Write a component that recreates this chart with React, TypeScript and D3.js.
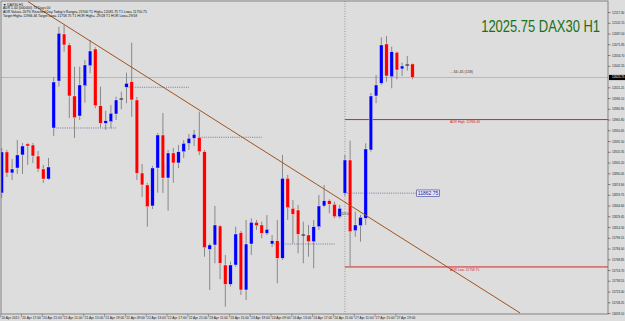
import React from 'react';
import * as d3 from 'd3';

const W = 625;
const H = 321;
const plot = { left: 1, right: 608, top: 1, bottom: 314 };

// DAX30 H1, 20 Apr 2015 .. 27 Apr 2015
const opens = [
  11863.0, 11920.8, 11891.2, 11898.2, 11916.6, 11932.1, 11930.6, 11915.1, 11896.8, 11882.7,
  11954.6, 12020.8, 12087.1, 12071.6, 11999.7, 11971.5, 12014.2, 12042.4, 12065.9, 11986.0,
  11961.2, 11963.5, 11974.3, 11995.5, 12012.0, 12019.9, 11994.1, 11891.2, 11874.3, 11844.7,
  11898.2, 11944.7, 11884.1, 11919.4, 11905.3, 11921.2, 11933.0, 11940.1, 11941.5, 11921.2,
  11783.7, 11789.7, 11816.5, 11761.5, 11734.3, 11761.5, 11807.1, 11726.3, 11791.1, 11821.7,
  11817.9, 11806.2, 11791.1, 11795.8, 11771.0, 11883.7, 11841.4, 11839.0, 11803.8, 11803.8,
  11794.4, 11815.5, 11844.7, 11852.2, 11847.1, 11829.6, 11862.75, 11909.5, 11809.9, 11816.9,
  11827.3, 11923.6, 11999.7, 12017.6, 12073.0, 12026.9, 12061.3, 12037.8, 12043.4, 12044.8,
];
const highs = [
  11926.4, 11923.6, 11910.9, 11937.7, 11933.5, 11933.5, 11933.5, 11922.2, 11902.5, 11912.3,
  12026.5, 12097.4, 12099.8, 12074.4, 12041.0, 12041.0, 12050.4, 12078.6, 12068.3, 12012.8,
  11979.0, 11987.0, 11998.7, 12005.8, 12032.5, 12074.8, 11998.3, 11903.9, 11877.1, 11901.1,
  11947.6, 11975.7, 11923.6, 11926.4, 11930.7, 11937.7, 11946.2, 11951.8, 11977.6, 11923.6,
  11792.1, 11844.7, 11817.9, 11775.6, 11766.2, 11815.5, 11809.5, 11825.0, 11827.3, 11825.0,
  11822.6, 11832.0, 11803.8, 11825.0, 11916.6, 11888.4, 11853.1, 11846.1, 11822.6, 11817.9,
  11825.0, 11860.2, 11874.3, 11854.1, 11850.7, 11846.1, 11916.6, 11936.7, 11836.7, 11832.0,
  11933.0, 12003.9, 12029.3, 12082.4, 12084.3, 12069.2, 12062.1, 12046.6, 12056.1, 12045.8,
];
const lows = [
  11856.0, 11885.6, 11881.3, 11889.8, 11889.8, 11902.5, 11905.3, 11892.6, 11877.1, 11881.3,
  11943.3, 12012.8, 12062.1, 11968.7, 11940.5, 11965.9, 11990.3, 12031.7, 11982.4, 11955.6,
  11951.8, 11954.2, 11965.9, 11981.0, 11989.4, 11970.5, 11881.3, 11857.4, 11815.5, 11840.5,
  11863.4, 11863.0, 11838.1, 11877.5, 11898.2, 11912.3, 11923.6, 11929.2, 11916.6, 11773.2,
  11726.3, 11763.9, 11741.4, 11702.8, 11731.0, 11759.1, 11719.3, 11712.2, 11775.6, 11810.9,
  11799.2, 11803.8, 11786.9, 11735.7, 11768.6, 11825.0, 11792.1, 11778.0, 11763.9, 11773.2,
  11756.9, 11810.9, 11842.9, 11834.4, 11827.3, 11827.3, 11858.8, 11759.1, 11801.4, 11794.4,
  11817.9, 11921.2, 11989.4, 12015.2, 12019.9, 12010.6, 12023.2, 12027.9, 12035.4, 12023.2,
];
const closes = [
  11920.8, 11891.2, 11896.8, 11916.6, 11929.2, 11929.2, 11915.1, 11896.8, 11882.7, 11899.6,
  12019.4, 12088.1, 12071.6, 11999.7, 11969.1, 12015.2, 12043.4, 12063.1, 11986.0, 11961.2,
  11964.9, 11975.3, 11994.1, 11995.5, 12017.6, 11994.1, 11890.8, 11874.3, 11843.7, 11898.2,
  11944.7, 11884.1, 11919.4, 11905.3, 11921.2, 11933.0, 11940.1, 11945.7, 11921.2, 11785.9,
  11789.7, 11817.9, 11763.9, 11734.3, 11761.5, 11805.2, 11726.3, 11791.1, 11821.7, 11816.9,
  11806.2, 11811.8, 11795.8, 11771.0, 11883.7, 11842.3, 11833.0, 11804.8, 11803.8, 11794.4,
  11815.5, 11844.7, 11852.2, 11847.1, 11829.6, 11841.4, 11909.5, 11808.5, 11817.9, 11828.8,
  11925.0, 11999.7, 12015.2, 12071.6, 12027.9, 12062.1, 12036.3, 12042.0, 12043.4, 12025.75,
];

const timeLabels = [
  '20 Apr 2015', '20 Apr 17:00', '20 Apr 21:00', '21 Apr 11:00', '21 Apr 15:00',
  '21 Apr 19:00', '22 Apr 09:00', '22 Apr 13:00', '22 Apr 17:00', '22 Apr 21:00',
  '23 Apr 11:00', '23 Apr 15:00', '23 Apr 19:00', '24 Apr 09:00', '24 Apr 13:00',
  '24 Apr 17:00', '24 Apr 21:00', '27 Apr 11:00', '27 Apr 15:00', '27 Apr 19:00',
];
const priceTicks = [
  '11693.10', '11708.25', '11723.40', '11738.55', '11753.70', '11768.85', '11784.00',
  '11799.15', '11814.30', '11829.45', '11844.60', '11859.75', '11874.90', '11890.05',
  '11905.20', '11920.35', '11935.50', '11950.65', '11965.80', '11980.95', '11996.10',
  '12011.25', '12026.40', '12041.55', '12056.70', '12071.85', '12087.00', '12102.15', '12117.30',
];

const dayOpenBars = [10, 24, 38, 52, 66];
const lastPrice = 12025.75;
const adrHigh = 11966.46;
const adrLow = 11758.75;
const trendAnchors = [
  { bar: 5.06, price: 12132.6 },
  { bar: 99.7, price: 11693.85 },
];
const headerLines = [
  '\u25BC DAX30,H1',
  'ADR 1.00 (000000) 73 Days 00',
  "ADR Value= 207%   Reached Day  Today's Range= 21900   T1 High= 12081.75   T1 Low= 11750.75",
  'Target High= 11966.46   Target Low= 11758.75   T1 HOR High= -29/28   T1 HOR Low= 29/58',
];

const App = () => {
  const x = d3.scaleLinear().domain([0, 79]).range([1.7, 412.5]);
  const y = d3.scaleLinear().domain([11693.85, 12118.05]).range([313, 12]);
  const bodyW = 3.6;
  const barStep = x(1) - x(0);
  const lastY = y(lastPrice);
  const sepX = x(66);
  const small = 'Liberation Sans, Arial, sans-serif';

  return (
    <svg width={W} height={H} viewBox={`0 0 ${W} ${H}`}
      style={{ position: 'fixed', left: 0, top: 0, display: 'block' }}>
      <defs>
        <clipPath id="plotClip">
          <rect x={plot.left} y={plot.top} width={plot.right - plot.left} height={plot.bottom - plot.top} />
        </clipPath>
      </defs>
      <rect x={0} y={0} width={W} height={H} fill="#dddddd" />

      <g clipPath="url(#plotClip)">
        {/* bid line */}
        <line x1={plot.left} x2={plot.right} y1={lastY} y2={lastY} stroke="#b9b9b9" strokeWidth={1} />

        {/* separator */}
        <line x1={sepX} x2={sepX} y1={plot.top} y2={plot.bottom} stroke="#8a8a8a" strokeWidth={0.8} strokeDasharray="1,1.5" />

        {/* day open levels */}
        {dayOpenBars.map((b, i) => {
          const isLast = i === dayOpenBars.length - 1;
          const x2 = isLast ? 416.5 : x(b + 12);
          return (
            <line key={b} x1={x(b)} x2={x2} y1={y(opens[b])} y2={y(opens[b])}
              stroke="#5a5f92" strokeWidth={0.8} strokeDasharray="1,1.2" />
          );
        })}

        {/* ADR levels */}
        {[adrHigh, adrLow].map((p) => (
          <line key={p} x1={sepX} x2={plot.right} y1={y(p)} y2={y(p)} stroke="#d02828" strokeWidth={1} />
        ))}

        {/* candles */}
        {opens.map((o, i) => {
          const c = closes[i];
          const cx = x(i);
          const up = c > o;
          const doji = Math.abs(c - o) < 0.01;
          const top = y(Math.max(o, c));
          const bot = y(Math.min(o, c));
          return (
            <g key={i}>
              <line x1={cx} x2={cx} y1={y(highs[i])} y2={y(lows[i])} stroke="#7f7f7f" strokeWidth={0.9} />
              {doji ? (
                <rect x={cx - bodyW / 2} y={top - 0.5} width={bodyW} height={1.1} fill="#1e2a2a" />
              ) : (
                <rect x={cx - bodyW / 2} y={top} width={bodyW} height={Math.max(1, bot - top)}
                  fill={up ? '#0000ff' : '#ff0000'} stroke="#f2f2f2" strokeWidth={0.4} />
              )}
            </g>
          );
        })}

        {/* trend line */}
        <line x1={x(trendAnchors[0].bar)} y1={y(trendAnchors[0].price)}
          x2={x(trendAnchors[1].bar)} y2={y(trendAnchors[1].price)}
          stroke="#a0521e" strokeWidth={1} />
      </g>

      {/* plot frame */}
      <rect x={plot.left} y={plot.top} width={plot.right - plot.left} height={plot.bottom - plot.top}
        fill="none" stroke="#6e6e6e" strokeWidth={0.8} />

      {/* header */}
      {headerLines.map((t, i) => (
        <text key={i} x={3} y={5.6 + i * 3.7} fontSize={3.4} fontFamily={small} fill="#111">{t}</text>
      ))}

      {/* big title, horizontally condensed */}
      <g transform="translate(600,32.3) scale(0.81,1)">
        <text x={0} y={0} textAnchor="end" fontSize={16} fontFamily={small} fill="#177117">12025.75 DAX30 H1</text>
      </g>

      {/* countdown */}
      <text x={450} y={73} fontSize={3.6} fontFamily={small} fill="#333">{'- -34:-45 (158)'}</text>

      {/* ADR labels */}
      <text x={450} y={y(adrHigh) + 3.6} fontSize={3.3} fontFamily={small} fill="#d02828">ADR High: 11966.46</text>
      <text x={450} y={y(adrLow) + 3.6} fontSize={3.3} fontFamily={small} fill="#d02828">ADR Low: 11758.75</text>

      {/* open price box */}
      <rect x={416.7} y={y(opens[66]) - 3.2} width={22.6} height={6.6} fill="#e8e8f6" stroke="#3a3aa0" strokeWidth={0.6} />
      <text x={428} y={y(opens[66]) + 1.8} textAnchor="middle" fontSize={5} fontFamily={small} fill="#25258a">11862.75</text>

      {/* prior close tag */}
      <text x={338.5} y={215} fontSize={2.8} fontFamily={small} fill="#3b4848">11829.60</text>

      {/* price axis */}
      {priceTicks.map((t) => {
        const ty = y(parseFloat(t));
        if (Math.abs(ty - lastY) < 4) return null;
        return (
          <g key={t}>
            <line x1={plot.right} x2={plot.right + 2.5} y1={ty} y2={ty} stroke="#444" strokeWidth={0.6} />
            <text x={612} y={ty + 1} fontSize={3} fontFamily={small} fill="#222">{t}</text>
          </g>
        );
      })}
      <rect x={609} y={lastY - 2.6} width={16} height={5.2} fill="#000" />
      <text x={612} y={lastY + 1} fontSize={3} fontFamily={small} fill="#fff">{lastPrice.toFixed(2)}</text>

      {/* time axis */}
      {timeLabels.map((t, i) => {
        const tx = x(i * 4) - barStep * 0.2;
        return (
          <g key={t}>
            <line x1={tx} x2={tx} y1={plot.bottom} y2={plot.bottom + 3.5} stroke="#555" strokeWidth={0.5} />
            <text x={tx + 0.8} y={318.6} fontSize={3.3} fontFamily={small} fill="#222">{t}</text>
          </g>
        );
      })}
    </svg>
  );
};

export default App;
